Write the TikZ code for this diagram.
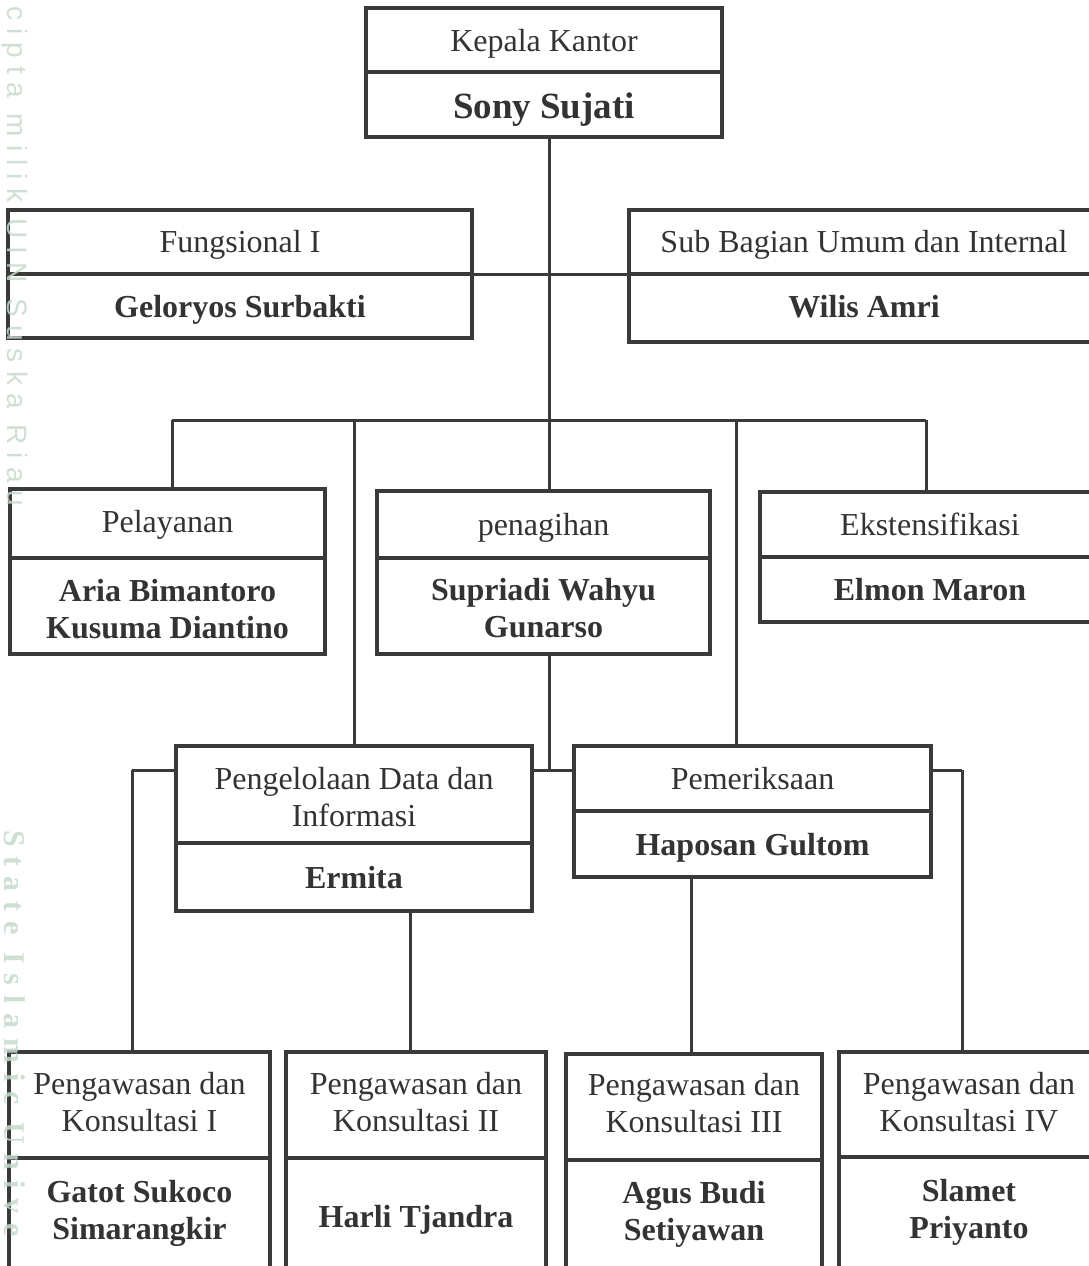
\documentclass[tikz,border=0pt]{standalone}
\usepackage{fontspec}
\setmainfont{Liberation Serif}
\newfontfamily\wmfont[LetterSpace=29]{Liberation Sans}
\newfontfamily\wmfontb[LetterSpace=33]{Liberation Serif}
\definecolor{linec}{HTML}{3A3A3A}
\definecolor{txtc}{HTML}{333333}
\definecolor{wmc}{HTML}{C5D9CB}
\begin{document}
\begin{tikzpicture}[x=1pt,y=-1pt,
  box/.style={draw=linec,fill=white,line width=4pt,inner sep=0pt,outer sep=0pt,anchor=north west},
  lbl/.style={inner sep=0pt,align=center,text=txtc,font=\fontsize{32}{37}\selectfont},
  nlbl/.style={lbl,font=\fontsize{32}{37}\selectfont\bfseries},
  conn/.style={draw=linec,line width=3pt},
  wm/.style={rotate=-90,anchor=west,text=wmc,inner sep=0pt,opacity=0.85}]
\useasboundingbox (0,0) rectangle (1089,1266);
\clip (0,0) rectangle (1089,1266);
% junction coordinates
\coordinate (j0) at (549,420);
\coordinate (j1) at (172,420);
\coordinate (j2) at (354,420);
\coordinate (j4) at (736,420);
\coordinate (j5) at (926,420);
\coordinate (k0) at (549,770);
\coordinate (k1) at (132,770);
\coordinate (k2) at (410,770);
\coordinate (k3) at (691,770);
\coordinate (k4) at (962,770);
% anchor points of boxes (for connectors drawn beneath the boxes)
\coordinate (kepBot) at (549,137);
\coordinate (penTop) at (549,491);
\coordinate (penBot) at (549,654);
\coordinate (fungR) at (472,274);
\coordinate (subL) at (629,274);
% connectors (beneath boxes)
\draw[conn] (kepBot) -- (penTop);
\draw[conn] (fungR) -- (subL);
\draw[conn] (j1) -- (j5);
\draw[conn] (j1) -- (j1 |- 0,489);
\draw[conn] (j2) -- (j2 |- 0,746);
\draw[conn] (j4) -- (j4 |- 0,746);
\draw[conn] (j5) -- (j5 |- 0,492);
\draw[conn] (penBot) -- (k0);
\draw[conn] (k1) -- (k4);
\draw[conn] (k1) -- (k1 |- 0,1052);
\draw[conn] (k2) -- (k2 |- 0,1052);
\draw[conn] (k3) -- (k3 |- 0,1054);
\draw[conn] (k4) -- (k4 |- 0,1052);
% Kepala Kantor
\node[box,minimum width=356pt,minimum height=64pt] (kepT) at (366,8) {};
\node[box,minimum width=356pt,minimum height=65pt] (kepB) at (kepT.south west) {};
\node[lbl] (kept) at ([yshift=-4pt]kepT.center) {Kepala Kantor};
\node[nlbl,font=\fontsize{37}{40}\selectfont\bfseries] (kepb) at ([yshift=-5pt]kepB.center) {Sony Sujati};
% Fungsional I
\node[box,minimum width=464pt,minimum height=64pt] (fungT) at (8,210) {};
\node[box,minimum width=464pt,minimum height=64pt] (fungB) at (fungT.south west) {};
\node[lbl] (fungt) at ([yshift=-3pt]fungT.center) {Fungsional I};
\node[nlbl] (fungb) at ([yshift=-4pt]fungB.center) {Geloryos Surbakti};
% Sub Bagian
\node[box,minimum width=470pt,minimum height=64pt] (subT) at (629,210) {};
\node[box,minimum width=470pt,minimum height=68pt] (subB) at (subT.south west) {};
\node[lbl] (subt) at ([yshift=-3pt]subT.center) {Sub Bagian Umum dan Internal};
\node[nlbl] (subb) at ([yshift=1pt]subB.center) {Wilis Amri};
% Pelayanan
\node[box,minimum width=315pt,minimum height=69pt] (pelT) at (10,489) {};
\node[box,minimum width=315pt,minimum height=96pt] (pelB) at (pelT.south west) {};
\node[lbl] (pelt) at ([yshift=-1pt]pelT.center) {Pelayanan};
\node[nlbl] (pelb) at ([yshift=-3pt]pelB.center) {Aria Bimantoro\\Kusuma Diantino};
% penagihan
\node[box,minimum width=333pt,minimum height=67pt] (penT) at (377,491) {};
\node[box,minimum width=333pt,minimum height=96pt] (penB) at (penT.south west) {};
\node[lbl] (pent) at ([yshift=-3pt]penT.center) {penagihan};
\node[nlbl] (penb) at ([yshift=-2pt]penB.center) {Supriadi Wahyu\\Gunarso};
% Ekstensifikasi
\node[box,minimum width=340pt,minimum height=65pt] (eksT) at (760,492) {};
\node[box,minimum width=340pt,minimum height=65pt] (eksB) at (eksT.south west) {};
\node[lbl] (ekst) at (eksT.center) {Ekstensifikasi};
\node[nlbl] (eksb) at (eksB.center) {Elmon Maron};
% Pengelolaan Data dan Informasi
\node[box,minimum width=356pt,minimum height=97pt] (pdiT) at (176,746) {};
\node[box,minimum width=356pt,minimum height=68pt] (pdiB) at (pdiT.south west) {};
\node[lbl] (pdit) at ([yshift=-2.5pt]pdiT.center) {Pengelolaan Data dan\\Informasi};
\node[nlbl] (pdib) at ([yshift=-1pt]pdiB.center) {Ermita};
% Pemeriksaan
\node[box,minimum width=357pt,minimum height=65pt] (pemT) at (574,746) {};
\node[box,minimum width=357pt,minimum height=66pt] (pemB) at (pemT.south west) {};
\node[lbl] (pemt) at (pemT.center) {Pemeriksaan};
\node[nlbl] (pemb) at ([yshift=-4pt]pemB.center) {Haposan Gultom};
% Pengawasan dan Konsultasi I
\node[box,minimum width=261pt,minimum height=106pt] (pk1T) at (9,1052) {};
\node[box,minimum width=261pt,minimum height=116pt] (pk1B) at (pk1T.south west) {};
\node[lbl] (pk1t) at ([yshift=3pt]pk1T.center) {Pengawasan dan\\Konsultasi I};
\node[nlbl] (pk1b) at ([yshift=3pt]pk1B.center) {Gatot Sukoco\\Simarangkir};
% Pengawasan dan Konsultasi II
\node[box,minimum width=260pt,minimum height=106pt] (pk2T) at (286,1052) {};
\node[box,minimum width=260pt,minimum height=116pt] (pk2B) at (pk2T.south west) {};
\node[lbl] (pk2t) at ([yshift=3pt]pk2T.center) {Pengawasan dan\\Konsultasi II};
\node[nlbl] (pk2b) at ([yshift=-4pt]pk2B.center) {Harli Tjandra};
% Pengawasan dan Konsultasi III
\node[box,minimum width=256pt,minimum height=106pt] (pk3T) at (566,1054) {};
\node[box,minimum width=256pt,minimum height=114pt] (pk3B) at (pk3T.south west) {};
\node[lbl] (pk3t) at ([yshift=4pt]pk3T.center) {Pengawasan dan\\Konsultasi III};
\node[nlbl] (pk3b) at ([yshift=2.5pt]pk3B.center) {Agus Budi\\Setiyawan};
% Pengawasan dan Konsultasi IV
\node[box,minimum width=260pt,minimum height=105pt] (pk4T) at (839,1052) {};
\node[box,minimum width=260pt,minimum height=117pt] (pk4B) at (pk4T.south west) {};
\node[lbl] (pk4t) at ([yshift=2.5pt]pk4T.center) {Pengawasan dan\\Konsultasi IV};
\node[nlbl] (pk4b) at ([yshift=3pt]pk4B.center) {Slamet\\Priyanto};
% faint margin watermark (drawn over everything, as in the reference)
\node[wm,font=\wmfont\fontsize{28}{28}\selectfont] (wma) at (15,6) {cipta milik UIN Suska Riau};
\node[wm,font=\wmfontb\bfseries\fontsize{30}{30}\selectfont] (wmb) at (15,830) {State Islamic Unive};
\end{tikzpicture}
\end{document}
